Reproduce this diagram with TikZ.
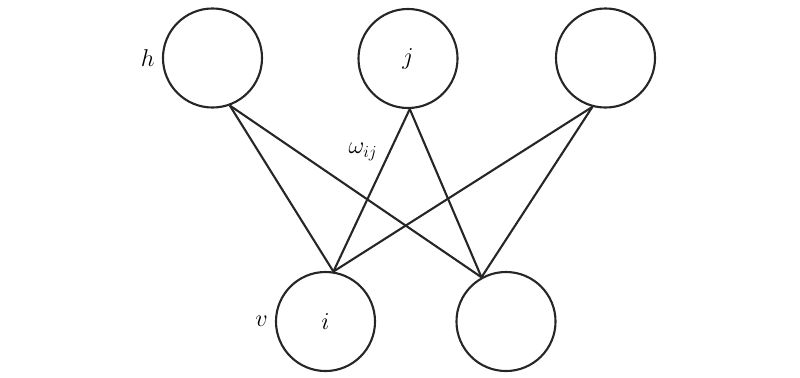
\documentclass[tikz,border=0pt]{standalone}
\usepackage{tikz}
\usetikzlibrary{positioning}
\tikzset{
  unit/.style={circle,draw=black!85,line width=1.5pt,minimum size=2.475cm,inner sep=0pt,font=\fontsize{18}{20}\selectfont},
  lbl/.style={inner sep=0pt,font=\fontsize{18}{20}\selectfont},
  link/.style={line width=1.5pt,draw=black!85}
}
\begin{document}
\begin{tikzpicture}[x=0.025cm,y=-0.025cm]
\useasboundingbox (0,0) rectangle (800,377);
\node[unit] (h1) at (212.5,58) {};
\node[unit] (h2) at (408,58.5) {$j$};
\node[unit] (h3) at (605.5,58) {};
\node[unit] (v1) at (325.5,321.5) {$i$};
\node[unit] (v2) at (506,321.5) {};
\node[lbl,left=5pt of h1] (hlab) {$h$};
\node[lbl,left=5pt of v1] (vlab) {$v$};
\node[lbl] (wlab) at (363,152) {$\omega_{ij}$};
\draw[link] (h1.-70) -- (v1.81);
\draw[link] (h1.-70) -- (v2.119);
\draw[link] (h2.-88) -- (v1.81);
\draw[link] (h2.-88) -- (v2.119);
\draw[link] (h3.-105) -- (v1.81);
\draw[link] (h3.-105) -- (v2.119);
\end{tikzpicture}
\end{document}
